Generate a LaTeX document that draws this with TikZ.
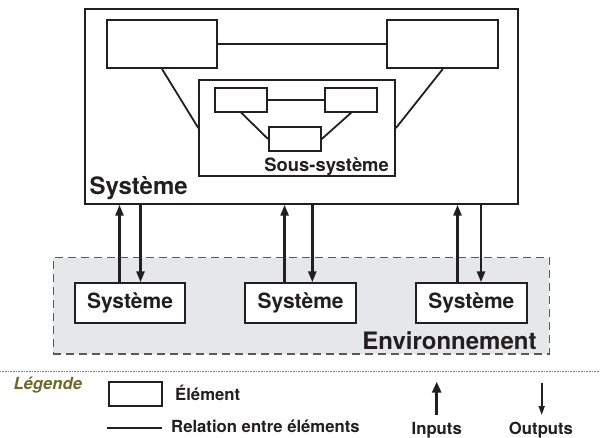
\documentclass[tikz,border=0pt]{standalone}
\usepackage{fontspec}
\setmainfont{TeX Gyre Heros}
\usetikzlibrary{arrows.meta}
\definecolor{ink}{HTML}{231F20}
\definecolor{envgray}{HTML}{E6E7E8}
\definecolor{envdash}{HTML}{58595B}
\definecolor{legolive}{HTML}{6B6A2C}
\begin{document}
\begin{tikzpicture}[x=1pt,y=-1pt,
  elem/.style={draw=ink, line width=2pt, fill=white, inner sep=0pt},
  rel/.style={draw=ink, line width=1.8pt},
  io/.style={draw=ink, line width=2.5pt, -{Triangle[length=11pt,width=8pt]}},
  bigtxt/.style={font=\fontsize{24}{28}\selectfont\bfseries, text=ink, inner sep=0pt},
  legtxt/.style={font=\fontsize{16.7}{20}\selectfont\bfseries, text=ink, inner sep=0pt}]
\useasboundingbox (0,0) rectangle (600,438);
% environment
\node[draw=envdash, fill=envgray, line width=1.2pt, dash pattern=on 8pt off 5pt,
  minimum width=496pt, minimum height=96.3pt, inner sep=0pt] (env) at (301.3,305.85) {};
% system
\node[draw=ink, line width=2pt, minimum width=432.5pt, minimum height=194.4pt, inner sep=0pt] (sys) at (301.25,106.5) {};
\node[elem, minimum width=110.6pt, minimum height=48pt] (e1) at (162,44) {};
\node[elem, minimum width=111pt, minimum height=48pt] (e2) at (442.8,44) {};
\node[elem, minimum width=195.7pt, minimum height=96pt] (sub) at (297.15,128) {};
\node[elem, minimum width=52.3pt, minimum height=23.4pt] (s1) at (241.2,100) {};
\node[elem, minimum width=52.3pt, minimum height=23.4pt] (s2) at (351.2,100) {};
\node[elem, minimum width=51.7pt, minimum height=23.4pt] (s3) at (294.9,139) {};
\draw[rel] (e1.east) -- (e2.west);
\draw[rel] (e1.south) -- (sub.west);
\draw[rel] (e2.south) -- (sub.east);
\draw[rel] (s1.east) -- (s2.west);
\draw[rel] (s1.south) -- (s3.west);
\draw[rel] (s2.south) -- (s3.east);
\node[anchor=base east, font=\fontsize{18.4}{22}\selectfont\bfseries, text=ink, inner sep=0pt] (subl) at (389,171.7) {Sous-système};
\node[bigtxt, anchor=base west] (sysl) at (89.3,195) {Système};
% environment systems
\node[elem, minimum width=110pt, minimum height=40pt, font=\fontsize{21}{24}\selectfont\bfseries, text=ink] (v1) at (130,303.3) {Système};
\node[elem, minimum width=110.4pt, minimum height=40pt, font=\fontsize{21}{24}\selectfont\bfseries, text=ink] (v2) at (300.6,303.3) {Système};
\node[elem, minimum width=110.7pt, minimum height=40pt, font=\fontsize{21}{24}\selectfont\bfseries, text=ink] (v3) at (471.35,303.3) {Système};
\node[bigtxt, anchor=base east] (envl) at (536.7,350) {Environnement};
% arrows
\coordinate (a1) at (119.5,0); \coordinate (b1) at (140.5,0);
\coordinate (a2) at (284.6,0); \coordinate (b2) at (312.3,0);
\coordinate (a3) at (457.5,0); \coordinate (b3) at (481,0);
\draw[io] (v1.north -| a1) -- (sys.south -| a1);
\draw[io] (sys.south -| b1) -- (v1.north -| b1);
\draw[io] (v2.north -| a2) -- (sys.south -| a2);
\draw[io] (sys.south -| b2) -- (v2.north -| b2);
\draw[io] (v3.north -| a3) -- (sys.south -| a3);
\draw[io] (sys.south -| b3) -- (v3.north -| b3);
% legend
\coordinate (dl) at (0,371); \coordinate (dr) at (600,371);
\draw[gray, line width=0.6pt, dash pattern=on 0.8pt off 0.8pt] (dl) -- (dr);
\node[anchor=base west, font=\fontsize{16.7}{20}\selectfont\bfseries\itshape, text=legolive, inner sep=0pt] (leg) at (13.3,389.3) {Légende};
\node[elem, minimum width=52.7pt, minimum height=24pt] (lbox) at (135.3,393.7) {};
\node[legtxt, anchor=base west] (lboxt) at (175,400) {Élément};
\coordinate (l1) at (106.7,427.7); \coordinate (l2) at (161.7,427.7);
\draw[rel] (l1) -- (l2);
\node[legtxt, anchor=base west] (lrelt) at (171,432.7) {Relation entre éléments};
\coordinate (i1) at (436.7,415); \coordinate (i2) at (436.7,381.7);
\draw[draw=ink, line width=2.6pt, -{Triangle[length=11pt,width=9pt]}] (i1) -- (i2);
\node[legtxt, anchor=base] (inl) at (436.7,434) {Inputs};
\coordinate (o1) at (541.7,382.7); \coordinate (o2) at (541.7,415);
\draw[draw=ink, line width=1.6pt, -{Triangle[length=9pt,width=6pt]}] (o1) -- (o2);
\node[legtxt, anchor=base] (outl) at (541,434) {Outputs};
\end{tikzpicture}
\end{document}
